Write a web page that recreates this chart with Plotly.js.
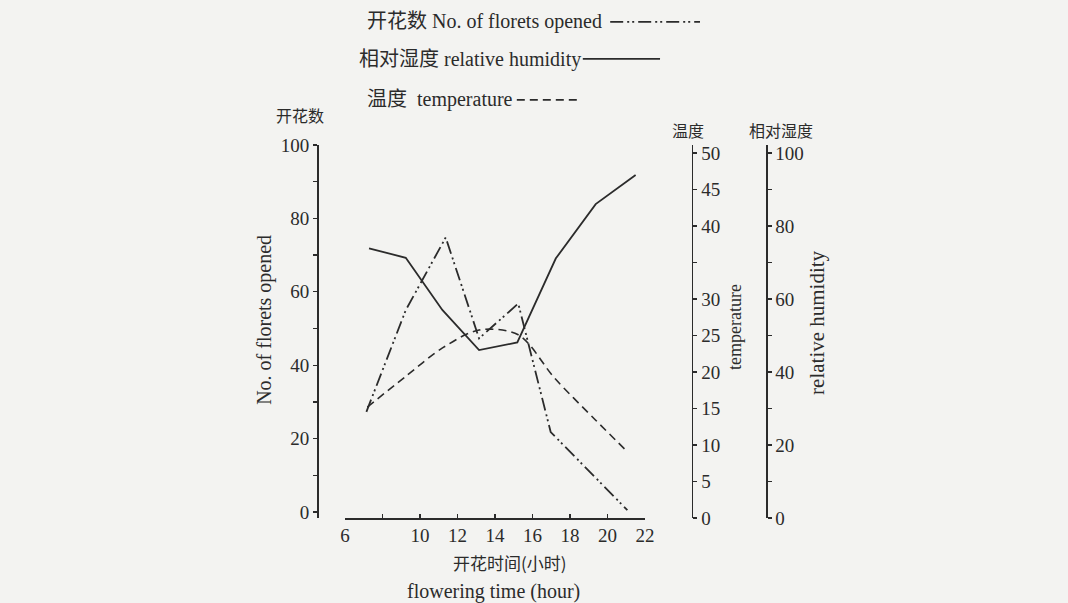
<!DOCTYPE html>
<html>
<head>
<meta charset="utf-8">
<script src="https://cdn.plot.ly/plotly-3.0.1.min.js"></script>
<style>
  html, body { margin: 0; padding: 0; background: #f3f3f1; }
  #chart { width: 1068px; height: 603px; }
</style>
</head>
<body>
<div id="chart"></div>
<script>
// ---- Data ----
const floretHours = [7.14, 9.24, 11.37, 13.15, 15.24, 16.97, 21.06];
const floretValues = [27.3, 55, 74.8, 47.3, 56.8, 21.8, 0.5];

const humidityHours = [7.28, 9.24, 11.19, 13.15, 15.19, 17.24, 19.37, 21.5];
const humidityValues = [73.9, 71.3, 57, 46, 48.1, 71.1, 86, 94];

const temperatureHours = [7.19, 9.24, 11.2, 13.15, 15.24, 17.2, 19.37, 20.97];
const temperatureValues = [15.2, 19.4, 23.3, 25.75, 25.1, 19.1, 13.4, 9.3];

const xTickVals = [6, 8, 10, 12, 14, 16, 18, 20, 22];
const xTickText = ['6', '', '10', '12', '14', '16', '18', '20', '22'];
const leftTickVals = [0, 10, 20, 30, 40, 50, 60, 70, 80, 90, 100];
const leftTickText = ['0', '', '20', '', '40', '', '60', '', '80', '', '100'];
const tempTickVals = [0, 5, 10, 15, 20, 25, 30, 35, 40, 45, 50];
const tempTickText = ['0', '5', '10', '15', '20', '25', '30', '', '40', '45', '50'];
const humTickVals = [0, 10, 20, 30, 40, 50, 60, 70, 80, 90, 100];
const humTickText = ['0', '', '20', '', '40', '', '60', '', '80', '', '100'];

// ---- Styling ----
const INK = '#2b2b2b';
const SERIF = 'Liberation Serif, Noto Sans CJK SC, serif';
const CJK = 'Noto Sans CJK SC, sans-serif';
const FLORET_DASH = '13px,4px,2px,3px,2px,4px';
const TEMP_DASH = '8px,5px';

const traces = [
  {
    x: floretHours, y: floretValues, yaxis: 'y', type: 'scatter', mode: 'lines',
    name: 'No. of florets opened',
    line: { color: INK, width: 1.8, dash: FLORET_DASH }
  },
  {
    x: humidityHours, y: humidityValues, yaxis: 'y3', type: 'scatter', mode: 'lines',
    name: 'relative humidity',
    line: { color: INK, width: 1.8 }
  },
  {
    x: temperatureHours, y: temperatureValues, yaxis: 'y2', type: 'scatter', mode: 'lines',
    name: 'temperature',
    line: { color: INK, width: 1.6, dash: TEMP_DASH, shape: 'spline', smoothing: 0.9 }
  }
];

const axisCommon = {
  showgrid: false, zeroline: false, showline: true,
  linecolor: INK, linewidth: 1.5, tickcolor: INK, tickwidth: 1.3,
  tickmode: 'array', fixedrange: true
};

function note(text, x, y, opts) {
  return Object.assign({
    text: text, x: x, y: y, xref: 'paper', yref: 'paper',
    xanchor: 'center', yanchor: 'middle', showarrow: false
  }, opts);
}

const layout = {
  width: 1068, height: 603,
  margin: { l: 317, r: 302, t: 145, b: 85 },
  paper_bgcolor: '#f3f3f1', plot_bgcolor: 'rgba(0,0,0,0)',
  showlegend: false,
  font: { family: SERIF, color: INK, size: 18 },
  xaxis: Object.assign({}, axisCommon, {
    domain: [0.0624, 0.7305], range: [6, 22],
    tickvals: xTickVals, ticktext: xTickText,
    ticks: 'inside', ticklen: 4,
    tickfont: { family: SERIF, size: 19, color: INK },
    anchor: 'y'
  }),
  yaxis: Object.assign({}, axisCommon, {
    range: [-1.63, 100], anchor: 'free', position: 0,
    tickvals: leftTickVals, ticktext: leftTickText,
    ticks: 'outside', ticklen: 4,
    tickfont: { family: SERIF, size: 19, color: INK }
  }),
  yaxis2: Object.assign({}, axisCommon, {
    range: [0, 51.1], overlaying: 'y', side: 'right', anchor: 'free', position: 0.835,
    tickvals: tempTickVals, ticktext: tempTickText,
    ticks: 'outside', ticklen: 4,
    tickfont: { family: SERIF, size: 19, color: INK }
  }),
  yaxis3: Object.assign({}, axisCommon, {
    range: [0, 102.2], overlaying: 'y', side: 'right', anchor: 'free', position: 1.0,
    tickvals: humTickVals, ticktext: humTickText,
    ticks: 'outside', ticklen: 4,
    tickfont: { family: SERIF, size: 19, color: INK }
  }),
  annotations: [
    // axis headers
    note('开花数', -0.038, 1.080, { font: { family: CJK, size: 16, color: INK } }),
    note('温度', 0.826, 1.040, { font: { family: CJK, size: 16, color: INK } }),
    note('相对湿度', 1.033, 1.040, { font: { family: CJK, size: 16, color: INK } }),
    // rotated axis titles
    note('No. of florets opened', -0.116, 0.531, { textangle: -90, font: { family: SERIF, size: 20, color: INK } }),
    note('temperature', 0.931, 0.512, { textangle: -90, font: { family: SERIF, size: 18, color: INK } }),
    note('relative humidity', 1.1136, 0.523, { textangle: -90, font: { family: SERIF, size: 21, color: INK } }),
    // x axis titles
    note('开花时间(小时)', 0.430, -0.118, { font: { family: CJK, size: 17, color: INK } }),
    note('flowering time (hour)', 0.392, -0.196, { font: { family: SERIF, size: 20, color: INK } }),
    // legend texts
    note('开花数 No. of florets opened', 0.107, 1.330, { xanchor: 'left', font: { family: SERIF, size: 20, color: INK } }),
    note('相对湿度 relative humidity', 0.089, 1.228, { xanchor: 'left', font: { family: SERIF, size: 20, color: INK } }),
    note('温度  temperature', 0.107, 1.123, { xanchor: 'left', font: { family: SERIF, size: 20, color: INK } })
  ],
  shapes: [
    { type: 'line', xref: 'paper', yref: 'paper', x0: 0.653, x1: 0.853, y0: 1.330, y1: 1.330,
      line: { color: INK, width: 1.8, dash: FLORET_DASH } },
    { type: 'line', xref: 'paper', yref: 'paper', x0: 0.592, x1: 0.764, y0: 1.231, y1: 1.231,
      line: { color: INK, width: 1.8 } },
    { type: 'line', xref: 'paper', yref: 'paper', x0: 0.445, x1: 0.579, y0: 1.121, y1: 1.121,
      line: { color: INK, width: 1.6, dash: TEMP_DASH } }
  ]
};

Plotly.newPlot('chart', traces, layout, { displayModeBar: false, staticPlot: true });
</script>
</body>
</html>
